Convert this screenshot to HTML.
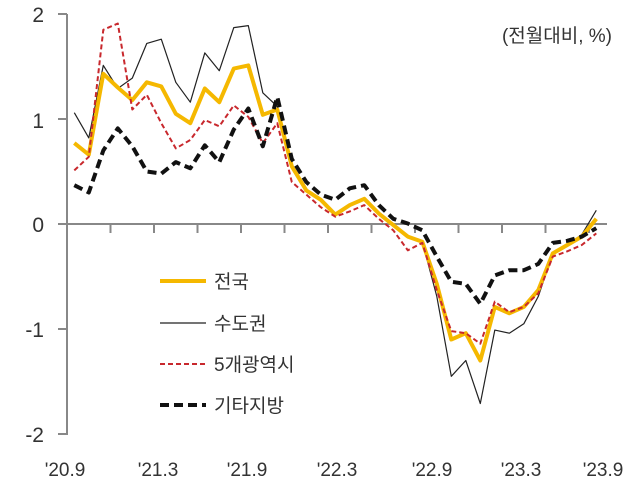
<!DOCTYPE html>
<html><head><meta charset="utf-8"><style>
body{margin:0;background:#fff;}
svg{display:block;font-family:"Liberation Sans","Noto Sans CJK KR",sans-serif;}
</style></head><body>
<svg id="s" width="642" height="493" xmlns="http://www.w3.org/2000/svg">
<g fill="#333" font-size="21" text-anchor="end">
<text x="44" y="22">2</text>
<text x="44" y="128">1</text>
<text x="44" y="232">0</text>
<text x="44" y="337">-1</text>
<text x="44" y="442">-2</text>
</g>
<g fill="#333" font-size="19" text-anchor="middle">
<text x="65" y="476">'20.9</text>
<text x="158" y="476">'21.3</text>
<text x="247" y="476">'21.9</text>
<text x="337" y="476">'22.3</text>
<text x="432" y="476">'22.9</text>
<text x="521" y="476">'23.3</text>
<text x="603" y="476">'23.9</text>
</g>
<text x="612" y="42" font-size="19" fill="#333" text-anchor="end">(전월대비, %)</text>
<g stroke="#888" stroke-width="2" fill="none" id="ax">
<line x1="67" y1="14" x2="67" y2="435"/>
<line x1="60" y1="224" x2="607" y2="224"/>
</g>
<g id="lines" fill="none" stroke-linejoin="round"></g>
<g stroke-width="3">
<line x1="160" y1="281" x2="206" y2="281" stroke="#f5b800" stroke-width="4"/>
<line x1="160" y1="323" x2="206" y2="323" stroke="#222" stroke-width="1.2"/>
<line x1="160" y1="364" x2="206" y2="364" stroke="#c8282d" stroke-width="2" stroke-dasharray="5,3"/>
<line x1="160" y1="405" x2="206" y2="405" stroke="#111" stroke-width="4" stroke-dasharray="9,5"/>
</g>
<g fill="#333" font-size="19">
<text x="214" y="288">전국</text>
<text x="214" y="330">수도권</text>
<text x="214" y="371">5개광역시</text>
<text x="214" y="412">기타지방</text>
</g>
</svg>
<script>
var ax=document.getElementById('ax'),L=document.getElementById('lines'),NS="http://www.w3.org/2000/svg";
function el(t,a,p){var e=document.createElementNS(NS,t);for(var k in a)e.setAttribute(k,a[k]);p.appendChild(e);return e;}
[0,1,2,-1,-2].forEach(function(v){var y=224-105*v;el('line',{x1:58,y1:y,x2:67,y2:y},ax);});
for(var k=1;k<=12;k++){var x=67+43.5*k;el('line',{x1:x,y1:224,x2:x,y2:233},ax);}
var Y=[0.77,0.66,1.43,1.30,1.18,1.35,1.31,1.05,0.96,1.29,1.16,1.48,1.51,1.04,1.09,0.55,0.32,0.23,0.09,0.18,0.24,0.10,-0.01,-0.12,-0.17,-0.57,-1.10,-1.04,-1.30,-0.79,-0.85,-0.79,-0.63,-0.28,-0.20,-0.12,0.05];
var K=[1.06,0.82,1.51,1.29,1.39,1.72,1.76,1.35,1.16,1.63,1.46,1.87,1.89,1.25,1.12,0.57,0.33,0.22,0.08,0.19,0.25,0.10,-0.01,-0.12,-0.17,-0.69,-1.45,-1.30,-1.71,-1.01,-1.04,-0.95,-0.69,-0.28,-0.20,-0.10,0.13];
var R=[0.51,0.64,1.85,1.91,1.09,1.23,0.96,0.72,0.80,0.99,0.93,1.13,1.02,0.77,0.96,0.40,0.28,0.16,0.07,0.12,0.18,0.05,-0.06,-0.25,-0.18,-0.63,-1.02,-1.04,-1.14,-0.74,-0.84,-0.79,-0.66,-0.31,-0.26,-0.20,-0.09];
var B=[0.37,0.30,0.70,0.91,0.74,0.50,0.48,0.59,0.53,0.75,0.59,0.90,1.10,0.74,1.21,0.62,0.40,0.28,0.23,0.34,0.37,0.18,0.05,0.005,-0.06,-0.31,-0.55,-0.57,-0.76,-0.49,-0.44,-0.44,-0.38,-0.18,-0.16,-0.12,-0.04];
function pts(a){return a.map(function(v,i){return (74.25+14.5*i).toFixed(1)+','+(224-105*v).toFixed(1);}).join(' ');}
el('polyline',{points:pts(K),stroke:'#222','stroke-width':1.2},L);
el('polyline',{points:pts(Y),stroke:'#f5b800','stroke-width':4},L);
el('polyline',{points:pts(R),stroke:'#c8282d','stroke-width':2,'stroke-dasharray':'5,3'},L);
el('polyline',{points:pts(B),stroke:'#111','stroke-width':4,'stroke-dasharray':'9,5'},L);
</script>
</body></html>
